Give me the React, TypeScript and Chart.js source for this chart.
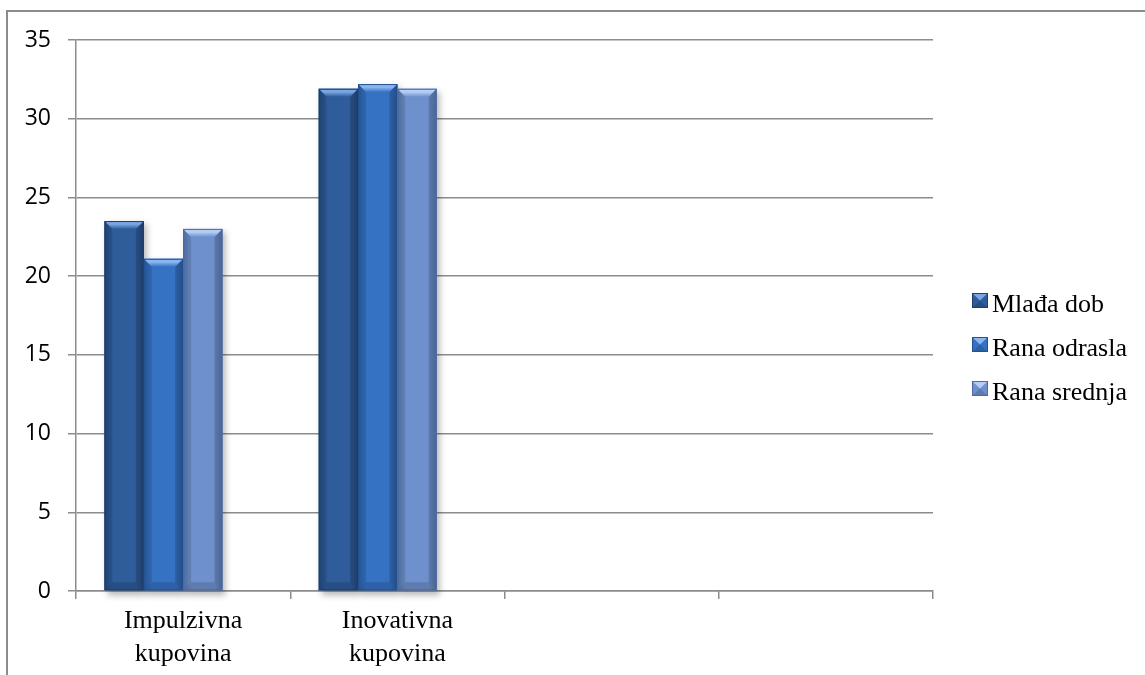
import { useEffect, useRef } from 'react';
import { Chart, registerables } from 'chart.js';

Chart.register(...registerables);

// Categories (the last two slots are empty, as on the axis)
const categories: (string | string[])[] = [
  ['Impulzivna', 'kupovina'],
  ['Inovativna', 'kupovina'],
  '',
  '',
];

const seriesNames = ['Mlađa dob', 'Rana odrasla', 'Rana srednja'];

const mladjaDob = [23.5, 31.9, null, null];
const ranaOdrasla = [21.1, 32.2, null, null];
const ranaSrednja = [23.0, 31.9, null, null];

const yMin = 0;
const yMax = 35;
const yStep = 5;

// Bevel palette per series: body, darker edge, light top facet, outline
const palette = [
  { body: '#2f5d9b', edge: '#234a80', top: '#7aa6e2', outline: '#1d3e6c' },
  { body: '#3672c3', edge: '#2a5ea6', top: '#8ab6f2', outline: '#24518f' },
  { body: '#6e91cd', edge: '#5878b0', top: '#b4cff6', outline: '#4d6a9e' },
];

const SERIES_COUNT = 3;

function barBox(el: any) {
  const p = el.getProps(['x', 'y', 'base', 'width'], true);
  const l = p.x - p.width / 2;
  const r = p.x + p.width / 2;
  const t = Math.min(p.y, p.base);
  const b = Math.max(p.y, p.base);
  return { l, r, t, b, w: p.width };
}

const framePlugin = {
  id: 'outerFrame',
  beforeDraw(chart: any) {
    const ctx = chart.ctx;
    ctx.save();
    ctx.strokeStyle = '#8c8c8c';
    ctx.lineWidth = 2;
    ctx.beginPath();
    ctx.moveTo(7, chart.height);
    ctx.lineTo(7, 11);
    ctx.lineTo(chart.width, 11);
    ctx.stroke();
    ctx.restore();
  },
};

const barShadowPlugin = {
  id: 'barShadow',
  beforeDatasetsDraw(chart: any) {
    const ctx = chart.ctx;
    ctx.save();
    ctx.filter = 'blur(3px)';
    ctx.fillStyle = 'rgba(0,0,0,0.28)';
    for (let d = 0; d < SERIES_COUNT; d++) {
      const meta = chart.getDatasetMeta(d);
      meta.data.forEach((el: any, i: number) => {
        if (chart.data.datasets[d].data[i] == null) return;
        const { l, t, b, w } = barBox(el);
        ctx.fillRect(l + 3, t + 3, w, b - t + 2);
      });
    }
    ctx.restore();
  },
};

const bevelPlugin = {
  id: 'bevelBars',
  afterDatasetsDraw(chart: any) {
    const ctx = chart.ctx;
    ctx.save();
    for (let d = 0; d < SERIES_COUNT; d++) {
      const meta = chart.getDatasetMeta(d);
      const c = palette[d];
      meta.data.forEach((el: any, i: number) => {
        if (chart.data.datasets[d].data[i] == null) return;
        const { l, r, t, b, w } = barBox(el);
        const bv = Math.min(8, w / 4);

        // body with soft horizontal shading
        const g = ctx.createLinearGradient(l, 0, r, 0);
        g.addColorStop(0, c.edge);
        g.addColorStop(0.2, c.body);
        g.addColorStop(0.8, c.body);
        g.addColorStop(1, c.edge);
        ctx.fillStyle = g;
        ctx.fillRect(l, t, w, b - t);

        // left / right / bottom facets
        ctx.fillStyle = 'rgba(0,0,0,0.10)';
        ctx.beginPath();
        ctx.moveTo(l, t);
        ctx.lineTo(l + bv, t + bv);
        ctx.lineTo(l + bv, b - bv);
        ctx.lineTo(l, b);
        ctx.closePath();
        ctx.fill();

        ctx.fillStyle = 'rgba(0,0,0,0.16)';
        ctx.beginPath();
        ctx.moveTo(r, t);
        ctx.lineTo(r - bv, t + bv);
        ctx.lineTo(r - bv, b - bv);
        ctx.lineTo(r, b);
        ctx.closePath();
        ctx.fill();

        ctx.fillStyle = 'rgba(0,0,0,0.14)';
        ctx.beginPath();
        ctx.moveTo(l, b);
        ctx.lineTo(r, b);
        ctx.lineTo(r - bv, b - bv);
        ctx.lineTo(l + bv, b - bv);
        ctx.closePath();
        ctx.fill();

        // light top facet
        const tg = ctx.createLinearGradient(0, t, 0, t + bv);
        tg.addColorStop(0, c.top);
        tg.addColorStop(0.4, c.top);
        tg.addColorStop(1, c.body);
        ctx.fillStyle = tg;
        ctx.beginPath();
        ctx.moveTo(l, t);
        ctx.lineTo(r, t);
        ctx.lineTo(r - bv, t + bv);
        ctx.lineTo(l + bv, t + bv);
        ctx.closePath();
        ctx.fill();

        // outline
        ctx.strokeStyle = c.outline;
        ctx.lineWidth = 1;
        ctx.strokeRect(l + 0.5, t + 0.5, w - 1, b - t - 1);
      });
    }
    ctx.restore();
  },
};

const legendPlugin = {
  id: 'sideLegend',
  afterDraw(chart: any) {
    const ctx = chart.ctx;
    const area = chart.chartArea;
    const boxX = area.right + 39;
    const textX = boxX + 20;
    const firstBaseline = 312;
    const spacing = 44;
    ctx.save();
    ctx.font = '26px "Liberation Serif", "Times New Roman", serif';
    ctx.textBaseline = 'alphabetic';
    ctx.textAlign = 'left';
    seriesNames.forEach((name, i) => {
      const c = palette[i];
      const base = firstBaseline + i * spacing;
      const by = base - 19;
      const bw = 16;
      const bh = 15;
      ctx.fillStyle = c.body;
      ctx.fillRect(boxX, by, bw, bh);
      ctx.fillStyle = c.top;
      ctx.beginPath();
      ctx.moveTo(boxX, by);
      ctx.lineTo(boxX + bw, by);
      ctx.lineTo(boxX + bw / 2, by + bh / 2);
      ctx.closePath();
      ctx.fill();
      ctx.fillStyle = 'rgba(0,0,0,0.15)';
      ctx.beginPath();
      ctx.moveTo(boxX, by + bh);
      ctx.lineTo(boxX + bw, by + bh);
      ctx.lineTo(boxX + bw / 2, by + bh / 2);
      ctx.closePath();
      ctx.fill();
      ctx.strokeStyle = c.outline;
      ctx.lineWidth = 1;
      ctx.strokeRect(boxX + 0.5, by + 0.5, bw - 1, bh - 1);
      ctx.fillStyle = '#000';
      ctx.fillText(name, textX, base);
    });
    ctx.restore();
  },
};

export default function App() {
  const canvasRef = useRef<HTMLCanvasElement | null>(null);

  useEffect(() => {
    if (!canvasRef.current) return;
    const seriesData = [mladjaDob, ranaOdrasla, ranaSrednja];
    const chart = new Chart(canvasRef.current, {
      type: 'bar',
      data: {
        labels: categories,
        datasets: [
          ...seriesData.map((data, i) => ({
            label: seriesNames[i],
            data,
            backgroundColor: palette[i].body,
            borderWidth: 0,
          })),
          // empty slot for the depth offset of the 3D group
          {
            label: 'depth',
            data: [null, null, null, null],
            backgroundColor: 'rgba(0,0,0,0)',
            borderWidth: 0,
          },
        ],
      },
      options: {
        animation: false,
        responsive: true,
        maintainAspectRatio: false,
        layout: { padding: { top: 40, right: 212, bottom: 0, left: 0 } },
        plugins: {
          legend: { display: false },
          tooltip: { enabled: false },
        },
        datasets: {
          bar: { categoryPercentage: 0.734, barPercentage: 1 },
        },
        scales: {
          x: {
            grid: {
              drawOnChartArea: false,
              drawTicks: true,
              tickLength: 8,
              color: '#8c8c8c',
              lineWidth: 1.5,
            },
            border: { color: '#8c8c8c', width: 1.5 },
            ticks: {
              color: '#000',
              autoSkip: false,
              maxRotation: 0,
              padding: 6,
              font: { family: '"Liberation Serif", "Times New Roman", serif', size: 26, lineHeight: 1.27 },
            },
            afterFit: (scale: any) => {
              scale.height = 84;
            },
          },
          y: {
            min: yMin,
            max: yMax,
            ticks: {
              stepSize: yStep,
              color: '#000',
              padding: 17,
              font: { family: '"Open Sans", sans-serif', size: 23 },
            },
            grid: {
              color: '#8c8c8c',
              lineWidth: 1.5,
              tickLength: 8,
            },
            border: { color: '#8c8c8c', width: 1.5 },
            afterFit: (scale: any) => {
              scale.width = 76;
            },
          },
        },
      },
      plugins: [framePlugin, barShadowPlugin, bevelPlugin, legendPlugin],
    });
    return () => chart.destroy();
  }, []);

  return (
    <div style={{ position: 'fixed', left: 0, top: 0, width: 1145, height: 675, background: '#fff' }}>
      <canvas ref={canvasRef} />
    </div>
  );
}
